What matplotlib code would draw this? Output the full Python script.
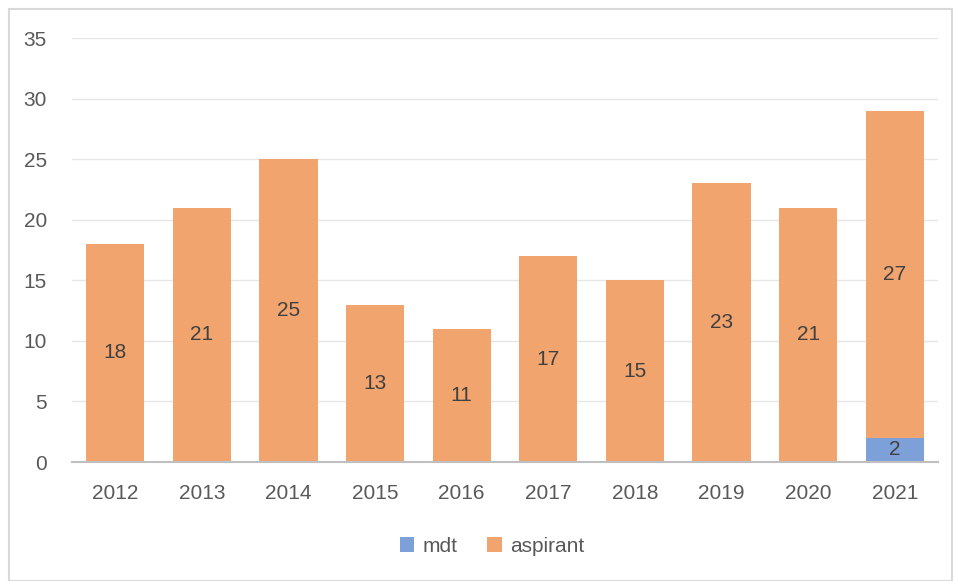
import matplotlib.pyplot as plt
from matplotlib.patches import Rectangle

years = ['2012', '2013', '2014', '2015', '2016', '2017', '2018', '2019', '2020', '2021']
mdt = [0, 0, 0, 0, 0, 0, 0, 0, 0, 2]
aspirant = [18, 21, 25, 13, 11, 17, 15, 23, 21, 27]

plt.rcParams['font.family'] = ['Liberation Sans', 'DejaVu Sans']

blue = '#7DA0D8'
orange = '#F2A46E'
txt = '#595959'

fig = plt.figure(figsize=(9.54, 5.81), dpi=100)
# outer frame of the chart
fig.patches.append(Rectangle((9 / 954, 0), 943 / 954, 572 / 581, transform=fig.transFigure,
                             facecolor='none', edgecolor='#D9D9D9', linewidth=1.5, zorder=-1))
ax = fig.add_axes([72 / 954, 1 - 462 / 581, 866 / 954, 424 / 581])
ax.set_facecolor('none')

x = range(len(years))
w = 0.67
b1 = ax.bar(x, mdt, w, color=blue, label='mdt', zorder=2)
b2 = ax.bar(x, aspirant, w, bottom=mdt, color=orange, label='aspirant', zorder=2)

for i in x:
    if mdt[i]:
        ax.text(i, mdt[i] / 2, str(mdt[i]), ha='center', va='center', fontsize=15, color='#404040')
    ax.text(i, mdt[i] + aspirant[i] / 2, str(aspirant[i]), ha='center', va='center',
            fontsize=15, color='#404040')

ax.set_xlim(-0.5, len(years) - 0.5)
ax.set_ylim(0, 35)
ax.set_yticks(range(0, 36, 5))
ax.set_xticks(list(x))
ax.set_xticklabels(years)
ax.grid(axis='y', color='#E6E6E6', linewidth=1, zorder=0)
ax.set_axisbelow(True)
for s in ['top', 'right', 'left']:
    ax.spines[s].set_visible(False)
ax.spines['bottom'].set_color('#BFBFBF')
ax.spines['bottom'].set_linewidth(1.5)
ax.tick_params(length=0, labelsize=15, labelcolor=txt)
ax.tick_params(axis='x', pad=16)
ax.tick_params(axis='y', pad=18)

fig.legend(handles=[b1, b2], loc='center', bbox_to_anchor=(492 / 954, 1 - 546 / 581), ncol=2,
           frameon=False, fontsize=15, labelcolor=txt, handlelength=0.7, handleheight=0.7,
           handletextpad=0.4, columnspacing=1.4)

fig.savefig('out.png', dpi=100)
